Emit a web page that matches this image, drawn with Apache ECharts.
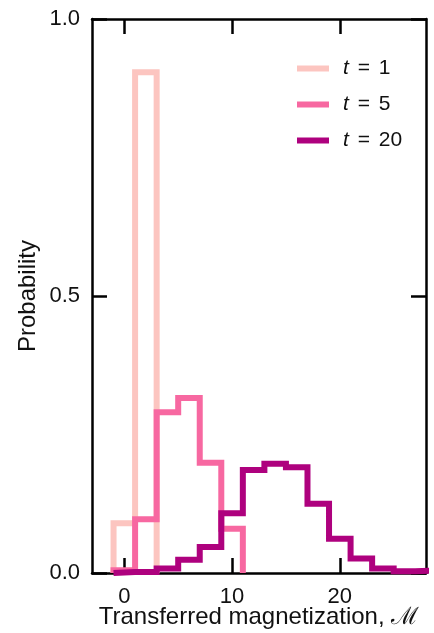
<!DOCTYPE html>
<html>
<head>
<meta charset="utf-8">
<script src="https://cdn.jsdelivr.net/npm/echarts@6/dist/echarts.min.js"></script>
<style>
  html, body {margin: 0; padding: 0; background: #fff;}
  #chart {width: 434px; height: 633px;}
</style>
</head>
<body>
<div id="chart"></div>
<script>
// histogram bins are 2 wide, edges on odd numbers
const binEdges = [-1, 1, 3, 5, 7, 9, 11, 13, 15, 17, 19, 21, 23, 25, 27, 29];
const probT1 = [0.09, 0.904];
const probT5 = [0.005, 0.097, 0.29, 0.316, 0.199, 0.08];
const probT20 = [0.002, 0.002, 0.008, 0.024, 0.047, 0.108, 0.186, 0.197, 0.191, 0.125, 0.062, 0.026, 0.008, 0.003, 0.005];
const seriesNames = ['t = 1', 't = 5', 't = 20'];
const seriesColors = ['#fcc5c0', '#f768a1', '#ae017e'];
const xTicks = [0, 10, 20];

// outline of a step histogram
function stepOutline(vals) {
  let pts = [[binEdges[0], 0]];
  vals.forEach(function (v, i) {
    pts.push([binEdges[i], v]);
    pts.push([binEdges[i + 1], v]);
  });
  pts.push([binEdges[vals.length], 0]);
  return pts;
}

const font = 'Liberation Sans';
const frame = {show: true, onZero: false, lineStyle: {color: '#000', width: 2.5}};
const tickIn = {show: true, inside: true, length: 15, lineStyle: {color: '#000', width: 2.5}};

var chart = echarts.init(document.getElementById('chart'));
chart.setOption({
  animation: false,
  grid: {left: 92, right: 8, top: 19, bottom: 60, containLabel: false, outerBoundsMode: 'none'},
  legend: {
    orient: 'vertical',
    left: 292,
    top: 52,
    icon: 'rect',
    itemWidth: 32,
    itemHeight: 6,
    itemGap: 13,
    itemStyle: {borderWidth: 0},
    textStyle: {
      fontFamily: font, fontSize: 21, color: '#111', lineHeight: 23, padding: [0, 0, 0, 9],
      rich: {
        i: {fontFamily: font, fontSize: 21, fontStyle: 'italic', color: '#111'},
        e: {fontFamily: font, fontSize: 21, color: '#111', padding: [0, 3, 0, 3]}
      }
    },
    formatter: function (name) {
      let parts = name.split(' = ');
      return '{i|' + parts[0] + '} {e|=} ' + parts[1];
    },
    data: seriesNames
  },
  xAxis: [{
    type: 'value', min: -3, max: 28, position: 'bottom',
    axisLine: frame,
    axisTick: Object.assign({customValues: xTicks}, tickIn),
    axisLabel: {customValues: xTicks, margin: 13, fontFamily: font, fontSize: 22, color: '#111'},
    splitLine: {show: false},
    name: 'Transferred magnetization, \u2133',
    nameLocation: 'middle', nameGap: 32, nameMoveOverlap: false,
    nameTextStyle: {fontFamily: font, fontSize: 24, color: '#111'}
  }, {
    type: 'value', min: -3, max: 28, position: 'top',
    axisLine: frame,
    axisTick: Object.assign({customValues: xTicks}, tickIn),
    axisLabel: {show: false},
    splitLine: {show: false}
  }],
  yAxis: [{
    type: 'value', min: 0, max: 1, interval: 0.5, position: 'left',
    axisLine: frame,
    axisTick: tickIn,
    axisLabel: {margin: 12, fontFamily: font, fontSize: 22, color: '#111', formatter: function (v) { return v.toFixed(1); }},
    splitLine: {show: false},
    name: 'Probability',
    nameLocation: 'middle', nameGap: 52, nameMoveOverlap: false,
    nameTextStyle: {fontFamily: font, fontSize: 24, color: '#111'}
  }, {
    type: 'value', min: 0, max: 1, interval: 0.5, position: 'right',
    axisLine: frame,
    axisTick: tickIn,
    axisLabel: {show: false},
    splitLine: {show: false}
  }],
  series: [probT1, probT5, probT20].map(function (vals, i) {
    return {
      name: seriesNames[i],
      type: 'line',
      data: stepOutline(vals),
      showSymbol: false,
      symbol: 'none',
      color: seriesColors[i],
      lineStyle: {color: seriesColors[i], width: 6, join: 'miter', cap: 'butt'}
    };
  })
});
</script>
</body>
</html>
